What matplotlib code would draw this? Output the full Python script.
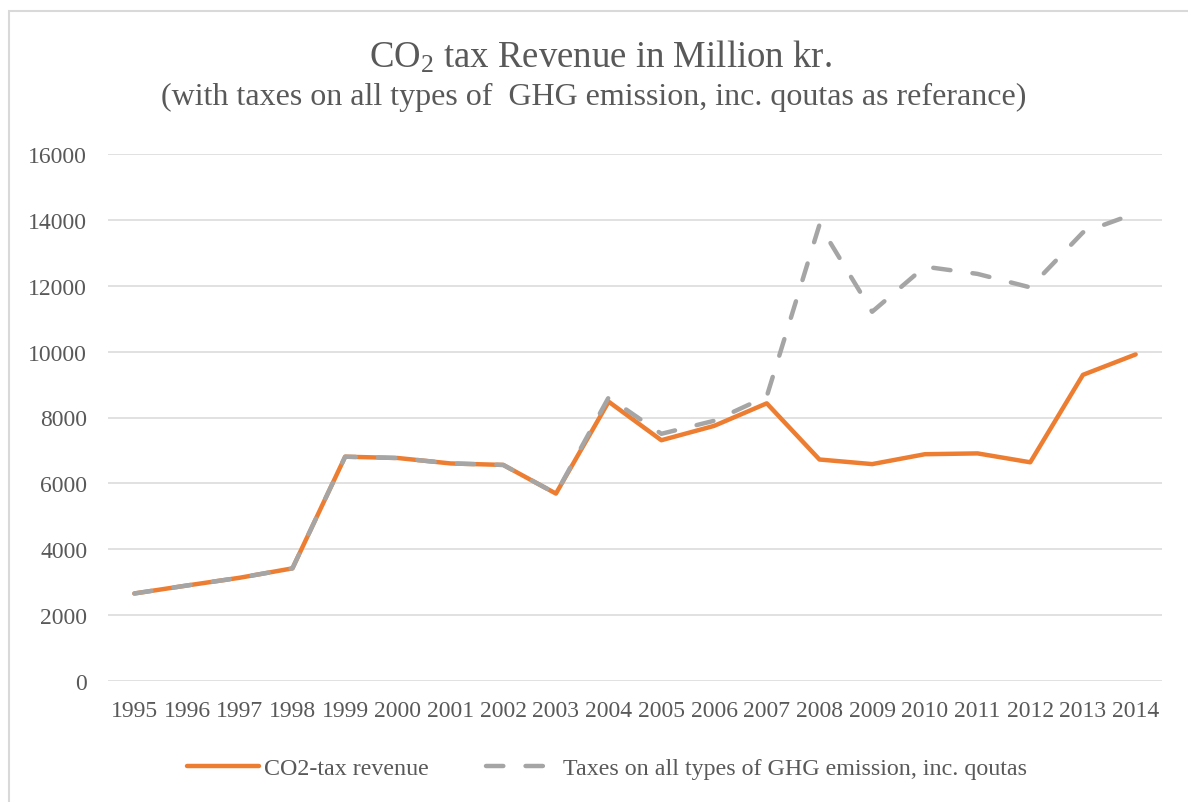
import numpy as np
import matplotlib.pyplot as plt
from matplotlib.lines import Line2D
from matplotlib.patches import Rectangle

plt.rcParams['font.family'] = ['Liberation Serif', 'DejaVu Serif']
plt.rcParams['mathtext.fontset'] = 'custom'
plt.rcParams['mathtext.rm'] = 'Liberation Serif'
plt.rcParams['mathtext.it'] = 'Liberation Serif:italic'
plt.rcParams['mathtext.bf'] = 'Liberation Serif:bold'

# --- 数据 ---
years = [str(y) for y in range(1995, 2015)]
co2_tax = [2657, 2900, 3135, 3420, 6810, 6770, 6605, 6560, 5690, 8480,
           7310, 7745, 8430, 6725, 6585, 6885, 6910, 6640, 9295, 9915]
ghg_tax = [2657, 2900, 3135, 3420, 6810, 6770, 6605, 6560, 5690, 8610,
           7505, 7900, 8640, 13850, 11210, 12580, 12360, 11950, 13620, 14200]
y_ticks = [0, 2000, 4000, 6000, 8000, 10000, 12000, 14000, 16000]

label_co2 = 'CO2-tax revenue'
label_ghg = 'Taxes on all types of GHG emission, inc. qoutas'

ORANGE = '#ED7D31'
GRAY = '#A5A5A5'
TEXT = '#595959'
GRID = '#D9D9D9'

W, H = 1188, 803
fig = plt.figure(figsize=(W / 100, H / 100), dpi=100)
ax = fig.add_axes([108 / W, 121 / H, 1054 / W, 527 / H])

x = np.arange(len(years))
ax.plot(x, co2_tax, color=ORANGE, lw=3.2, solid_capstyle='round',
        solid_joinstyle='round', zorder=3)
ax.plot(x, ghg_tax, color=GRAY, lw=3.2, dashes=(3.9, 5.0),
        dash_capstyle='round', dash_joinstyle='round', zorder=4)

ax.set_xlim(-0.5, len(years) - 0.5)
ax.set_ylim(0, 16000)
ax.set_xticks(x)
ax.set_xticklabels(years)
ax.set_yticks(y_ticks)
ax.set_yticklabels([str(v) for v in y_ticks])
ax.tick_params(axis='both', length=0, labelsize=17, labelcolor=TEXT)
ax.tick_params(axis='y', pad=15)
ax.tick_params(axis='x', pad=14)
ax.grid(axis='y', color=GRID, lw=1.1)
ax.set_axisbelow(True)
for s in ax.spines.values():
    s.set_visible(False)

# 标题
fig.text(0.505, (H - 68) / H, r'CO$_\mathrm{2}$ tax Revenue in Million kr.',
         ha='center', va='baseline', fontsize=26.5, color=TEXT)
fig.text(0.500, (H - 105) / H,
         '(with taxes on all types of  GHG emission, inc. qoutas as referance)',
         ha='center', va='baseline', fontsize=23, color=TEXT)

# 图例
handles = [Line2D([], [], color=ORANGE, lw=3.2, solid_capstyle='round'),
           Line2D([], [], color=GRAY, lw=3.2, dashes=(3.9, 5.0),
                  dash_capstyle='round')]
fig.legend(handles, [label_co2, label_ghg], loc='center',
           bbox_to_anchor=(607 / W, 34 / H), ncol=2, frameon=False,
           fontsize=17.3, labelcolor=TEXT, handlelength=3.0,
           handletextpad=0.2, columnspacing=2.4)

# 外框
fig.patches.append(Rectangle((9 / W, -0.05), 1.1, (H - 12) / H + 0.05,
                             transform=fig.transFigure, fill=False,
                             edgecolor=GRID, lw=1.5))

fig.savefig('out.png', dpi=100)
